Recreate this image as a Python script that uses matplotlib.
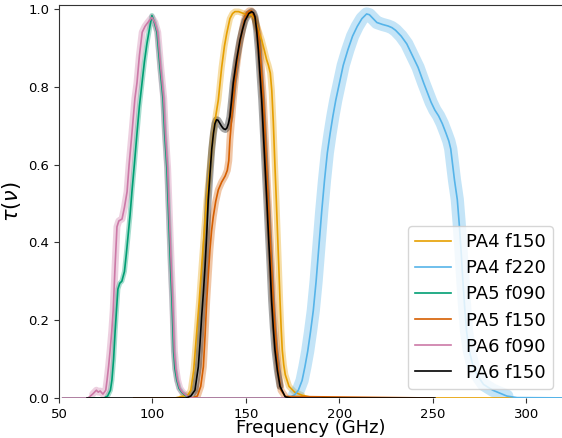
import numpy as np
import matplotlib
matplotlib.use("Agg")
import matplotlib.pyplot as plt

labels = ["PA4 f150", "PA4 f220", "PA5 f090", "PA5 f150", "PA6 f090", "PA6 f150"]
colors = ["#E69F00", "#56B4E9", "#009E73", "#D55E00", "#CC79A7", "#000000"]

# PA4 f150
f_pa4_150 = [100, 112, 116, 119, 120.5, 122, 123.6, 125, 126.3, 127.7, 129, 130.8, 132.5, 134,
             135.2, 137, 138.5, 139.7, 141.4, 142.8, 144.1, 146, 147.7, 150.4, 153, 154.5, 155.6,
             157, 158.4, 160, 161, 162, 163, 163.8, 164.6, 165.5, 166.2, 166.9, 167.6, 168.2,
             168.8, 169.4, 170.2, 171, 173, 176, 180, 185, 190, 330]
t_pa4_150 = [0, 0, 0.004, 0.008, 0.02, 0.07, 0.166, 0.25, 0.338, 0.43, 0.51, 0.6, 0.68, 0.73,
             0.766, 0.85, 0.905, 0.937, 0.975, 0.988, 0.993, 0.993, 0.99, 0.985, 0.985, 0.975,
             0.96, 0.94, 0.92, 0.89, 0.87, 0.855, 0.835, 0.79, 0.71, 0.595, 0.51, 0.42, 0.33,
             0.25, 0.18, 0.123, 0.085, 0.06, 0.03, 0.015, 0.007, 0.002, 0, 0]

# PA4 f220
f_pa4_220 = [130, 170, 172, 174, 176, 178, 180, 181.5, 183, 184.5, 186, 187.5, 189, 190.5, 192,
             193.5, 195, 196.5, 198, 200, 202, 204.5, 207, 209.5, 212, 214.5, 216, 218, 220, 223,
             226, 228, 230, 233, 236, 239, 242, 245, 247, 249, 251, 253, 255, 257, 258.5, 259.5,
             260.5, 261.5, 263, 264, 265, 266, 267, 268, 269.5, 271.5, 273.5, 277, 282, 289.5,
             295, 330]
t_pa4_220 = [0, 0, 0.001, 0.003, 0.008, 0.02, 0.045, 0.08, 0.12, 0.17, 0.225, 0.30, 0.39, 0.48,
             0.56, 0.63, 0.68, 0.725, 0.765, 0.81, 0.855, 0.895, 0.93, 0.955, 0.975, 0.987, 0.985,
             0.975, 0.965, 0.96, 0.956, 0.952, 0.945, 0.93, 0.91, 0.88, 0.85, 0.81, 0.785, 0.76,
             0.74, 0.725, 0.705, 0.68, 0.66, 0.64, 0.60, 0.56, 0.51, 0.45, 0.38, 0.30, 0.23, 0.17,
             0.12, 0.08, 0.06, 0.035, 0.02, 0.005, 0.001, 0]

# PA5 f090
f_pa5_090 = [52, 74, 76, 77.5, 78.3, 79.2, 80, 80.8, 81.5, 82.5, 83.6, 85, 86, 87, 88, 89, 90.3,
             91.7, 93, 94.4, 95.7, 97, 98.6, 99.7, 101, 102.4, 104, 105.6, 106.5, 107.7, 108.3,
             109, 109.7, 110.4, 111.3, 112, 113, 114.2, 115.6, 118, 121, 180]
t_pa5_090 = [0, 0, 0.005, 0.02, 0.046, 0.1, 0.17, 0.23, 0.28, 0.295, 0.30, 0.325, 0.37, 0.42,
             0.47, 0.53, 0.6, 0.68, 0.75, 0.81, 0.865, 0.91, 0.955, 0.983, 0.965, 0.94, 0.85,
             0.77, 0.68, 0.59, 0.51, 0.42, 0.33, 0.25, 0.12, 0.075, 0.046, 0.025, 0.015, 0.005,
             0, 0]

# PA5 f150
f_pa5_150 = [90, 121, 124, 125.8, 127.2, 128.1, 129, 129.9, 130.7, 131.6, 132.5, 133.8, 135.2,
             137, 138.8, 140, 140.8, 141.4, 142.3, 143.2, 144.1, 145, 146.3, 147.7, 149, 150.4,
             151.7, 153, 154.8, 156.6, 158, 159.3, 160.2, 161, 161.9, 162.8, 163.7, 164.6, 165.5,
             166.4, 167.5, 168.7, 171, 250]
t_pa5_150 = [0, 0, 0.005, 0.03, 0.08, 0.16, 0.25, 0.32, 0.38, 0.43, 0.466, 0.505, 0.535, 0.555,
             0.57, 0.585, 0.61, 0.663, 0.715, 0.766, 0.81, 0.852, 0.9, 0.937, 0.97, 0.989, 0.995,
             0.995, 0.975, 0.937, 0.86, 0.766, 0.68, 0.595, 0.51, 0.423, 0.335, 0.25, 0.18,
             0.123, 0.06, 0.02, 0.004, 0]

# PA6 f090
f_pa6_090 = [52, 65.5, 68, 70, 71, 72, 73.5, 75, 75.7, 76.5, 77.3, 78.2, 79, 80, 81, 82, 83.7,
             85, 86.4, 87.5, 89, 90.6, 91.7, 93, 94.5, 96, 97.5, 99.7, 101.3, 102.8, 104.4, 106,
             106.9, 108.1, 108.7, 109.4, 110.1, 110.8, 111.7, 112.5, 113.4, 114.6, 116, 118.5,
             121, 190]
t_pa6_090 = [0, 0, 0.01, 0.02, 0.015, 0.018, 0.01, 0.02, 0.046, 0.08, 0.12, 0.17, 0.226, 0.34,
             0.44, 0.455, 0.46, 0.49, 0.53, 0.60, 0.68, 0.77, 0.81, 0.88, 0.94, 0.955, 0.965,
             0.978, 0.965, 0.94, 0.85, 0.77, 0.68, 0.59, 0.51, 0.42, 0.33, 0.25, 0.12, 0.075,
             0.046, 0.025, 0.015, 0.005, 0, 0]

# PA6 f150
f_pa6_150 = [65, 118, 120.5, 122.7, 124.5, 125.4, 126.3, 127.2, 128.1, 129, 129.8, 130.8, 131.7,
             132.6, 133.4, 134.2, 135, 136, 137, 138, 139, 139.8, 140.6, 141.4, 142.3, 143.2,
             144.1, 145, 146.8, 148.2, 149.5, 151.5, 153, 154, 154.8, 155.7, 156.6, 157.5, 158.4,
             159.3, 160.2, 161.1, 162, 162.9, 163.7, 164.6, 165.5, 166.8, 168.2, 171, 174, 251]
t_pa6_150 = [0, 0, 0.005, 0.02, 0.08, 0.14, 0.21, 0.27, 0.338, 0.42, 0.51, 0.58, 0.64, 0.68,
             0.705, 0.715, 0.714, 0.706, 0.698, 0.692, 0.69, 0.694, 0.705, 0.723, 0.765, 0.81,
             0.84, 0.87, 0.92, 0.948, 0.97, 0.988, 0.993, 0.99, 0.98, 0.945, 0.895, 0.83, 0.766,
             0.68, 0.595, 0.51, 0.42, 0.335, 0.25, 0.18, 0.123, 0.07, 0.03, 0.003, 0, 0]

freqs = [f_pa4_150, f_pa4_220, f_pa5_090, f_pa5_150, f_pa6_090, f_pa6_150]
taus = [t_pa4_150, t_pa4_220, t_pa5_090, t_pa5_150, t_pa6_090, t_pa6_150]
band_widths = [4.5, 9.5, 3.6, 5.0, 5.0, 5.0]

fig = plt.figure(figsize=(5.62, 4.38), dpi=100)
ax = fig.add_axes([59 / 562, 40 / 438, 503 / 562, 393 / 438])

for f, t, c, lab, bw in zip(freqs, taus, colors, labels, band_widths):
    f = np.asarray(f, float)
    t = np.asarray(t, float)
    m = t > 0.003
    ax.plot(f[m], t[m], color=c, lw=bw, alpha=0.35, solid_joinstyle="round",
            solid_capstyle="round", zorder=2)
    ax.plot(f, t, color=c, lw=1.2, label=lab, zorder=3, solid_joinstyle="round")

ax.set_xlim(50, 319)
ax.set_ylim(0, 1.01)
ax.set_xticks([50, 100, 150, 200, 250, 300])
ax.set_yticks([0.0, 0.2, 0.4, 0.6, 0.8, 1.0])
ax.tick_params(labelsize=9.5, length=3.5, color="#333333")
ax.set_xlabel("Frequency (GHz)", fontsize=13, labelpad=-1)
ax.set_ylabel(r"$\tau(\nu)$", fontsize=15)
for s in ["right", "bottom"]:
    ax.spines[s].set_visible(False)
for s in ["top", "left"]:
    ax.spines[s].set_color("#333333")
ax.legend(loc="lower right", fontsize=13, labelspacing=0.45, borderaxespad=0.5)
fig.savefig("out.png", dpi=100)
